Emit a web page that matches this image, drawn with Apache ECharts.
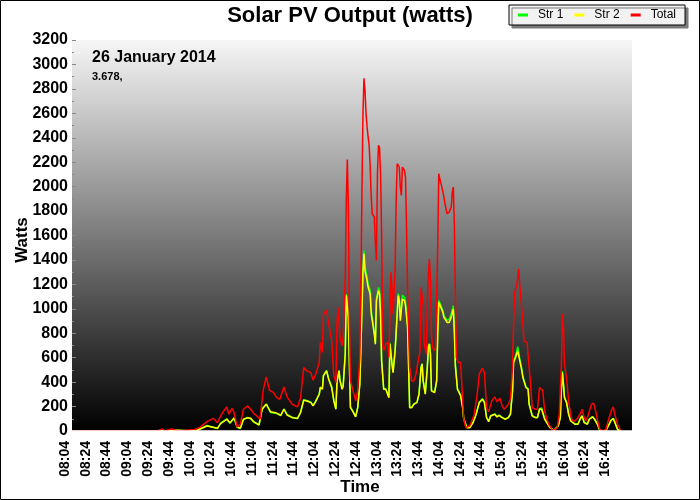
<!DOCTYPE html>
<html><head><meta charset="utf-8">
<script src="https://cdn.jsdelivr.net/npm/echarts@6/dist/echarts.min.js"></script>
<style>html,body{margin:0;padding:0;background:#fff}#c{width:700px;height:500px}</style>
</head><body><div id="c"></div>
<script>
// ---- data ----
const seriesNames = ["Str 1", "Str 2", "Total"];
const xTickStart = "08:04";
const xAxisTitle = "Time";
const yAxisTitle = "Watts";

const totalTimes = ["08:04","09:10","09:11","09:12","09:26","09:27","09:31","09:32","09:33","09:34","09:40","09:41","09:46","09:47","10:02",
"10:03","10:07","10:14","10:20","10:24","10:27","10:30","10:33","10:35","10:38","10:40","10:43","10:46","10:49","10:53","10:56","10:59",
"11:02","11:05","11:08","11:11","11:14","11:18","11:21","11:24","11:28","11:31","11:36","11:41","11:44","11:47","11:50","11:54","11:56","11:58",
"12:02","12:03","12:05","12:06","12:09","12:11","12:14","12:16","12:18","12:19","12:20","12:22","12:24","12:25","12:27","12:28","12:29","12:30",
"12:31","12:32","12:35","12:37","12:39","12:41","12:42","12:43","12:44","12:45","12:46","12:47","12:48","12:49","12:50","12:51","12:52","12:53",
"12:55","12:56","12:57","12:58","12:59","13:00","13:01","13:02","13:03","13:04","13:06","13:08","13:09","13:11","13:12","13:13","13:15","13:16",
"13:17","13:19","13:20","13:21","13:22","13:24","13:25","13:26","13:27","13:29","13:31","13:33","13:35","13:37","13:39","13:40","13:42","13:43",
"13:45","13:46","13:47","13:48","13:49","13:50","13:51","13:53","13:54","13:56","13:57","13:58","14:00","14:02","14:03","14:05","14:07","14:09",
"14:10","14:11","14:12","14:13","14:14","14:16","14:18","14:20","14:21","14:23","14:24","14:27","14:31","14:34","14:36","14:39","14:41","14:43",
"14:45","14:48","14:51","14:53","14:56","14:58","15:00","15:04","15:06","15:08","15:09","15:10","15:12","15:14","15:15","15:16","15:18","15:19",
"15:22","15:24","15:25","15:27","15:30","15:32","15:34","15:35","15:37","15:39","15:41","15:43","15:46","15:48","15:51","15:53","15:55","15:56",
"15:57","15:58","16:00","16:02","16:04","16:06","16:08","16:11","16:13","16:15","16:17","16:19","16:21","16:24","16:26","16:28","16:30","16:32",
"16:35","16:38","16:40","16:43","16:45","16:46","16:49","16:52"];
const totalWatts = [0,0,16,0,0,16,16,0,0,16,16,0,0,12,12,
10,30,76,104,68,123,164,197,137,186,150,33,55,178,205,178,142,
123,96,334,443,334,314,273,260,361,279,219,197,270,519,492,478,416,451,
561,725,643,957,990,875,738,451,396,861,1012,766,697,766,1258,1887,2221,1846,
903,410,314,246,328,601,1121,1914,2571,2886,2790,2599,2489,2407,2338,2160,1914,1778,
1750,1532,1395,2106,2338,2319,2106,1614,711,656,711,725,601,1299,1176,957,1327,1887,
2188,2160,1996,1928,2160,2133,2078,1668,1149,519,410,410,465,561,656,1176,1026,711,
629,1067,1285,1408,1231,793,684,656,684,1504,2106,2065,1996,1914,1860,1778,1791,1832,
1955,1996,1696,1121,601,561,560,260,100,27,14,45,130,301,465,514,478,191,
158,246,279,240,268,205,178,219,260,519,875,1135,1190,1327,1190,1094,875,738,
725,519,424,191,178,178,355,342,333,164,96,55,14,5,27,137,533,957,
861,547,437,246,123,82,82,109,137,178,109,82,137,219,227,164,82,14,
0,14,82,164,197,150,55,5];

const strTimes = ["08:04","09:26","09:27","09:31","09:32","09:34","09:35","09:40","09:41","10:03","10:14","10:24","10:27","10:33","10:36","10:40",
"10:43","10:46","10:49","10:53","10:56","10:59","11:04","11:07","11:11","11:15","11:20","11:25","11:28","11:31","11:36","11:41","11:44","11:47",
"11:50","11:54","11:56","11:58","12:02","12:03","12:05","12:06","12:09","12:11","12:14","12:16","12:18","12:19","12:21","12:22","12:24","12:25",
"12:27","12:28","12:30","12:31","12:32","12:34","12:37","12:39","12:41","12:42","12:44","12:45","12:46","12:48","12:49","12:51","12:52","12:54",
"12:55","12:56","12:57","12:59","13:00","13:01","13:02","13:04","13:06","13:07","13:09","13:10","13:12","13:13","13:15","13:17","13:18","13:19",
"13:20","13:22","13:24","13:25","13:27","13:29","13:31","13:33","13:36","13:38","13:40","13:41","13:42","13:44","13:46","13:47","13:48","13:49",
"13:50","13:53","13:55","13:56","13:57","13:59","14:01","14:02","14:05","14:07","14:09","14:11","14:12","14:13","14:15","14:18","14:20","14:21",
"14:24","14:27","14:30","14:33","14:36","14:39","14:41","14:43","14:45","14:47","14:51","14:53","14:55","14:58","15:01","15:04","15:06","15:08",
"15:09","15:11","15:13","15:15","15:17","15:18","15:21","15:23","15:24","15:27","15:30","15:32","15:34","15:36","15:37","15:39","15:42","15:44",
"15:48","15:52","15:54","15:55","15:56","15:57","15:58","16:00","16:02","16:04","16:08","16:11","16:13","16:15","16:17","16:20","16:22","16:25",
"16:27","16:30","16:32","16:35","16:38","16:41","16:43","16:45","16:47","16:49","16:52"];
const str2Watts = [0,0,8,8,0,0,8,8,0,0,41,22,60,96,68,104,
33,22,96,109,104,76,49,178,219,158,150,129,178,131,109,104,150,252,
246,232,205,232,301,355,342,451,492,424,355,246,178,396,492,410,342,369,
629,1108,930,547,191,164,115,191,383,656,1285,1450,1313,1231,1176,1121,957,848,
793,711,1067,1149,1121,957,574,342,342,355,273,711,547,478,656,957,1108,1067,
903,1080,1067,1026,848,191,191,219,232,301,519,547,410,301,519,684,711,629,
328,314,410,793,1053,1012,971,930,889,889,930,998,820,533,342,290,191,100,
27,27,68,137,232,260,232,109,76,123,137,115,128,109,96,109,137,328,
561,601,656,574,492,437,355,342,219,123,109,109,178,178,170,96,55,27,
5,41,109,328,478,383,273,232,137,82,55,55,96,123,68,55,96,115,
96,49,5,0,5,55,88,101,60,14,0];
const str1Watts = [0,0,6,6,0,0,6,6,0,0,45,20,64,100,62,108,
30,20,92,112,100,72,52,182,222,152,146,126,182,135,112,100,154,256,
250,236,210,236,305,360,346,456,496,430,360,250,182,400,496,416,346,372,
635,1120,940,552,195,168,118,195,388,662,1300,1475,1345,1262,1208,1150,990,870,
800,720,1085,1175,1150,975,580,346,346,360,278,720,555,482,665,975,1125,1090,
930,1110,1095,1060,870,195,195,222,236,305,525,552,415,305,525,690,716,635,
332,318,415,800,1070,1030,985,945,905,915,960,1025,835,540,346,295,195,104,
30,30,72,140,236,264,236,112,80,126,140,118,131,112,99,112,140,335,
575,615,690,590,505,446,360,346,222,126,112,112,182,188,174,99,58,30,
6,44,112,335,490,390,278,236,140,85,58,58,100,126,72,58,100,118,
99,52,6,0,6,58,92,104,62,16,0];

const annotationDate = "26 January 2014";
const annotationEnergy = "3.678,";

// ---- helpers ----
const base = (() => { const [h, m] = xTickStart.split(':').map(Number); return h * 60 + m; })();
const toOffset = t => { const [h, m] = t.split(':').map(Number); return h * 60 + m - base; };
const fmt = v => { const t = base + v; const h = Math.floor(t / 60), m = t % 60; return String(h).padStart(2, '0') + ':' + String(m).padStart(2, '0'); };
const pairs = (times, vals) => times.map((t, i) => [toOffset(t), vals[i]]);

const FONT = "'Liberation Sans', Arial, sans-serif";
const NARROW = "'Liberation Sans Narrow', 'Liberation Sans', Arial, sans-serif";

const GL = 72, GR = 68, GT = 40, GB = 69;

const chart = echarts.init(document.getElementById('c'), null, { renderer: 'canvas' });
chart.setOption({
  animation: false,
  backgroundColor: '#fff',
  title: {
    text: 'Solar PV Output (watts)', left: 'center', top: 0,
    textStyle: { fontFamily: NARROW, fontWeight: 'bold', fontSize: 22, color: '#000' }
  },
  legend: {
    data: seriesNames, left: 509, top: 5,
    padding: [4, 9, 4, 9], itemGap: 11,
    icon: 'rect', itemWidth: 10, itemHeight: 3,
    backgroundColor: '#f2f2f2', borderColor: '#000', borderWidth: 1,
    shadowColor: '#7a7a7a', shadowBlur: 0, shadowOffsetX: 3, shadowOffsetY: 3,
    textStyle: { fontFamily: NARROW, fontSize: 12, color: '#000', padding: [0, 0, 0, 5] }
  },
  grid: {
    left: GL, right: GR, top: GT, bottom: GB, show: true, borderWidth: 0,
    outerBoundsMode: 'none', containLabel: false,
    backgroundColor: { type: 'linear', x: 0, y: 0, x2: 0, y2: 1,
      colorStops: [{ offset: 0, color: '#f6f6f6' }, { offset: 1, color: '#000' }] }
  },
  xAxis: {
    type: 'value', min: 0, max: 539, interval: 20,
    axisLine: { show: false }, axisTick: { show: false }, splitLine: { show: false },
    axisLabel: { rotate: 90, formatter: fmt, margin: 10, verticalAlign: 'bottom',
      showMaxLabel: false, showMinLabel: true,
      fontFamily: FONT, fontWeight: 'bold', fontSize: 14, color: '#000' }
  },
  yAxis: {
    type: 'value', min: 0, max: 3200, interval: 200,
    axisLine: { show: false }, splitLine: { show: false },
    axisTick: { show: true, inside: true, length: 4, lineStyle: { color: '#888' } },
    minorTick: { show: true, splitNumber: 2, length: 2, lineStyle: { color: '#888' } },
    axisLabel: { margin: 4, formatter: v => String(v), fontFamily: FONT, fontWeight: 'bold', fontSize: 16, color: '#000' }
  },
  graphic: [
    { type: 'rect', silent: true, z: 100, shape: { x: 0.5, y: 0.5, width: 699, height: 499 },
      style: { fill: null, stroke: '#000', lineWidth: 1 } },
    // white strip hiding the zero baseline just below the plot area edge
    { type: 'rect', silent: true, z: 90, shape: { x: GL, y: 500 - GB - 0.8, width: 700 - GL - GR, height: 3 },
      style: { fill: '#fff' } },
    { type: 'text', x: 22, y: 240, rotation: Math.PI / 2, z: 100,
      style: { text: yAxisTitle, fill: '#000', align: 'center', verticalAlign: 'middle',
        font: "bold 17px 'Liberation Sans', Arial, sans-serif" } },
    { type: 'text', x: 360, y: 487, z: 100,
      style: { text: xAxisTitle, fill: '#000', align: 'center', verticalAlign: 'middle',
        font: "bold 17px 'Liberation Sans', Arial, sans-serif" } },
    { type: 'text', left: 92, top: 50, z: 100, style: { text: annotationDate, fill: '#000',
      font: "bold 16px 'Liberation Sans', Arial, sans-serif" } },
    { type: 'text', left: 92, top: 71, z: 100, style: { text: annotationEnergy, fill: '#000',
      font: "bold 11px 'Liberation Sans', Arial, sans-serif" } }
  ],
  series: [
    { name: seriesNames[0], type: 'line', data: pairs(strTimes, str1Watts), showSymbol: false,
      color: '#00ff00', lineStyle: { width: 1.5, color: '#00ff00' }, clip: true },
    { name: seriesNames[1], type: 'line', data: pairs(strTimes, str2Watts), showSymbol: false,
      color: '#ffff00', lineStyle: { width: 1.5, color: '#ffff00' }, clip: true },
    { name: seriesNames[2], type: 'line', data: pairs(totalTimes, totalWatts), showSymbol: false,
      color: '#ff0000', lineStyle: { width: 1.5, color: '#ff0000' }, clip: true }
  ]
});
</script></body></html>
